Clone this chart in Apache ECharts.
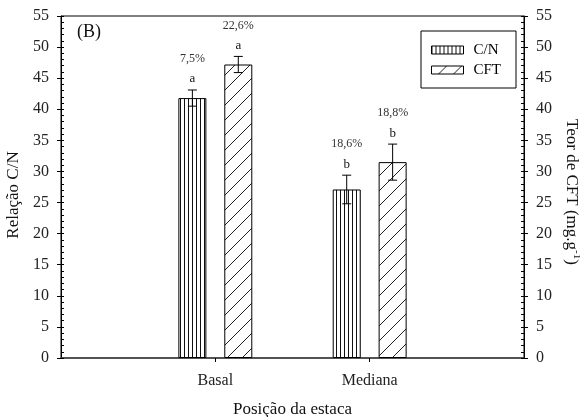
<!DOCTYPE html>
<html>
<head>
<meta charset="utf-8">
<script src="https://cdn.jsdelivr.net/npm/echarts@6/dist/echarts.min.js"></script>
<style>
  html, body { margin: 0; padding: 0; background: #fff; }
  #chart { width: 580px; height: 417px; }
</style>
</head>
<body>
<div id="chart"></div>
<script>
// Stake position (categories)
const positions = ['Basal', 'Mediana'];

// C/N ratio: means, error, letters, coefficient of variation
const cnValues = [41.8, 27.1];
const cnErrors = [1.3, 2.3];
const cnLetters = ['a', 'b'];
const cnCV = ['7,5%', '18,6%'];

// Total phenolic compounds (mg g-1)
const cftValues = [47.2, 31.5];
const cftErrors = [1.3, 2.9];
const cftLetters = ['a', 'b'];
const cftCV = ['22,6%', '18,8%'];

// Axis ticks
const yMin = 0, yMax = 55, yStep = 5;

const SERIF = 'Liberation Serif';
const BAR_W = 28;
const BAR_GAP = 0.64;

// Hatch fills for the bars
function hatch(kind) {
  const c = document.createElement('canvas');
  const ctx = c.getContext('2d');
  if (kind === 'vertical') {
    c.width = 4; c.height = 4;
    ctx.fillStyle = '#fff'; ctx.fillRect(0, 0, 4, 4);
    ctx.fillStyle = '#111'; ctx.fillRect(0, 0, 1, 4);
  } else {
    const s = 15;
    c.width = s; c.height = s;
    ctx.fillStyle = '#fff'; ctx.fillRect(0, 0, s, s);
    ctx.strokeStyle = '#222'; ctx.lineWidth = 1;
    for (const k of [-s, 0, s]) {
      ctx.beginPath(); ctx.moveTo(k, s); ctx.lineTo(k + s, 0); ctx.stroke();
    }
  }
  return { image: c, repeat: 'repeat' };
}

// Category slots: empty edges so Basal and Mediana sit at 1/3 and 2/3
const xCats = [''].concat(positions, ['']);
const padded = arr => ['-'].concat(arr, ['-']);

function errorSeries(values, errors, letters, cvs, side) {
  return {
    type: 'custom',
    z: 5,
    silent: true,
    data: values.map((v, i) => [i + 1, v - errors[i], v + errors[i]]),
    renderItem(params, api) {
      const i = params.dataIndex;
      const dx = side * BAR_W * (1 + BAR_GAP) / 2;
      const lo = api.coord([api.value(0), api.value(1)]);
      const hi = api.coord([api.value(0), api.value(2)]);
      const x = lo[0] + dx;
      const cap = 4.5;
      const line = { stroke: '#000', lineWidth: 1 };
      return {
        type: 'group',
        children: [
          { type: 'line', shape: { x1: x, y1: lo[1], x2: x, y2: hi[1] }, style: line },
          { type: 'line', shape: { x1: x - cap, y1: hi[1], x2: x + cap, y2: hi[1] }, style: line },
          { type: 'line', shape: { x1: x - cap, y1: lo[1], x2: x + cap, y2: lo[1] }, style: line },
          { type: 'text', x: x, y: hi[1] - 11,
            style: { text: letters[i], fill: '#111', fontFamily: SERIF, fontSize: 13,
                     textAlign: 'center', textVerticalAlign: 'middle', align: 'center', verticalAlign: 'middle' } },
          { type: 'text', x: x, y: hi[1] - 31,
            style: { text: cvs[i], fill: '#333', fontFamily: SERIF, fontSize: 12,
                     textAlign: 'center', textVerticalAlign: 'middle', align: 'center', verticalAlign: 'middle' } }
        ]
      };
    }
  };
}

const tickLabel = { fontFamily: SERIF, fontSize: 16, color: '#222' };
const NAME_SIZE = 17;

const valueAxis = (pos, extra) => Object.assign({
  type: 'value', position: pos, min: yMin, max: yMax, interval: yStep,
  splitLine: { show: false },
  axisLine: { show: true, lineStyle: { color: '#000', width: 1 } },
  axisTick: { show: true, length: 4, lineStyle: { color: '#000' } },
  axisLabel: Object.assign({ margin: 12 }, tickLabel)
}, extra);

const minorAxis = pos => ({
  type: 'value', position: pos, min: yMin, max: yMax, interval: 1,
  splitLine: { show: false },
  axisLine: { show: false },
  axisTick: { show: true, inside: true, length: 3, lineStyle: { color: '#000' } },
  axisLabel: { show: false }
});

const chart = echarts.init(document.getElementById('chart'), null, { renderer: 'canvas' });

chart.setOption({
  backgroundColor: '#fff',
  animation: false,
  grid: {
    left: 61, right: 56, top: 16, bottom: 59,
    containLabel: false, outerBoundsMode: 'none',
    show: true, borderColor: '#000', borderWidth: 1
  },
  legend: {
    data: ['C/N', 'CFT'],
    orient: 'vertical',
    left: 421, top: 31,
    padding: [11, 15, 10, 10],
    itemGap: 4,
    itemWidth: 32, itemHeight: 8,
    itemStyle: { borderColor: '#000', borderWidth: 1 },
    borderColor: '#000', borderWidth: 1,
    icon: 'rect',
    textStyle: { fontFamily: SERIF, fontSize: 15, color: '#000', lineHeight: 16, padding: [0, 0, 0, 5] }
  },
  xAxis: {
    type: 'category',
    data: xCats,
    boundaryGap: false,
    axisLine: { lineStyle: { color: '#444', width: 1.5 } },
    axisTick: { length: 4, interval: i => i === 1 || i === 2, lineStyle: { color: '#000' } },
    axisLabel: Object.assign({ interval: 0, margin: 15 }, tickLabel),
    name: 'Posição da estaca',
    nameLocation: 'middle',
    nameGap: 43,
    nameTextStyle: { fontFamily: SERIF, fontSize: NAME_SIZE, color: '#111' }
  },
  yAxis: [
    valueAxis('left', {
      name: 'Relação C/N', nameLocation: 'middle', nameRotate: 90, nameGap: 38,
      nameTextStyle: { fontFamily: SERIF, fontSize: NAME_SIZE, color: '#111', padding: [0, 16, 0, 0] }
    }),
    valueAxis('right', {
      name: '{n|Teor de CFT (mg.g}{s|-1}{n|)}', nameLocation: 'middle', nameRotate: -90, nameGap: 36,
      nameTextStyle: {
        fontFamily: SERIF, fontSize: NAME_SIZE, color: '#111', padding: [0, 0, 0, 10],
        rich: {
          n: { fontFamily: SERIF, fontSize: NAME_SIZE, color: '#111' },
          s: { fontFamily: SERIF, fontSize: 11, color: '#111', padding: [0, 0, 10, 0] }
        }
      }
    }),
    minorAxis('left'),
    minorAxis('right')
  ],
  graphic: [
    { type: 'text', left: 77, top: 23,
      style: { text: '(B)', fontFamily: SERIF, fontSize: 18, fill: '#111' } }
  ],
  series: [
    {
      name: 'C/N', type: 'bar', yAxisIndex: 0,
      data: padded(cnValues),
      barWidth: BAR_W, barGap: (BAR_GAP * 100) + '%',
      itemStyle: { color: hatch('vertical'), borderColor: '#000', borderWidth: 1 }
    },
    {
      name: 'CFT', type: 'bar', yAxisIndex: 1,
      data: padded(cftValues),
      barWidth: BAR_W, barGap: (BAR_GAP * 100) + '%',
      itemStyle: { color: hatch('diagonal'), borderColor: '#000', borderWidth: 1 }
    },
    errorSeries(cnValues, cnErrors, cnLetters, cnCV, -1),
    errorSeries(cftValues, cftErrors, cftLetters, cftCV, 1)
  ]
});
</script>
</body>
</html>
